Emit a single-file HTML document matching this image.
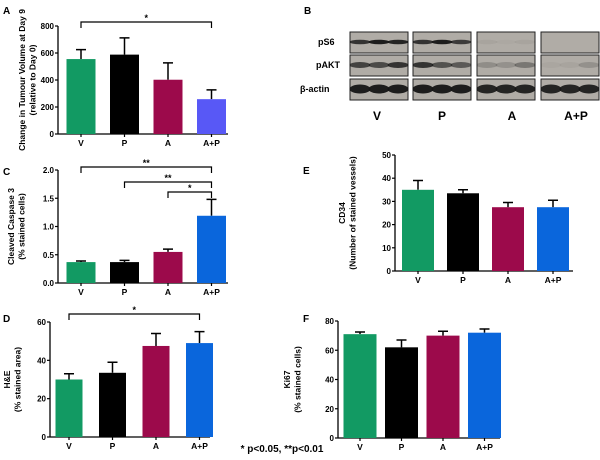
<!DOCTYPE html>
<html><head><meta charset="utf-8"><style>
body{margin:0;background:#fff;width:600px;height:455px;overflow:hidden;font-family:"Liberation Sans",sans-serif}
svg text{font-family:"Liberation Sans",sans-serif}
</style></head><body>
<svg id="fig" width="600" height="455" xmlns="http://www.w3.org/2000/svg"></svg>
<script>
const categories = ["V","P","A","A+P"];
const aValues = [555, 588, 402, 258];
const aErr = [625, 712, 527, 327];
const cValues = [0.37, 0.37, 0.55, 1.19];
const cErr = [0.39, 0.40, 0.60, 1.48];
const dValues = [30, 33.5, 47.5, 49];
const dErr = [33, 39, 54, 55];
const eValues = [35, 33.5, 27.5, 27.5];
const eErr = [39, 35, 29.5, 30.5];
const fValues = [71, 62, 70, 72];
const fErr = [72.5, 67, 73, 74.5];
const aTicks = [0,200,400,600,800];
const cTicks = [0,0.5,1.0,1.5,2.0];
const dTicks = [0,20,40,60];
const eTicks = [0,10,20,30,40,50];
const fTicks = [0,20,40,60,80];

const NS="http://www.w3.org/2000/svg";
const svg=document.getElementById('fig');
function mk(tag,attrs,parent){const e=document.createElementNS(NS,tag);for(const k in attrs)e.setAttribute(k,attrs[k]);(parent||svg).appendChild(e);return e;}
function txt(s,x,y,opts,parent){const t=mk('text',Object.assign({x:x,y:y,'font-size':9,'font-weight':'bold','text-anchor':'middle',fill:'#000'},opts||{}),parent);t.textContent=s;return t;}

function panel(cfg){
  const g=mk('g',{});
  
  
  const ys=v=>cfg.y0-(v-0)/(cfg.max)*(cfg.y0-cfg.y1);
  const xs=i=>cfg.x0+cfg.first+i*cfg.step;
  const ya=mk('line',{x1:cfg.x0,y1:cfg.y1,x2:cfg.x0,y2:cfg.y0,stroke:'#000','stroke-width':1.3},g);
  
  const xa=mk('line',{x1:cfg.x0,y1:cfg.y0,x2:cfg.x0+cfg.w,y2:cfg.y0,stroke:'#000','stroke-width':1.3},g);
  
  cfg.ticks.forEach(t=>{
    mk('line',{x1:cfg.x0-3,y1:ys(t),x2:cfg.x0,y2:ys(t),stroke:'#000','stroke-width':1.2},g);
    const l=txt(cfg.fmt?cfg.fmt(t):String(t),cfg.x0-4,ys(t)+3,{'text-anchor':'end','font-size':8},g);
    
  });
  cfg.values.forEach((v,i)=>{
    const cx=xs(i);
    const eb=mk('path',{d:`M${cx} ${ys(v)} V${ys(cfg.err[i])} M${cx-5} ${ys(cfg.err[i])} H${cx+5}`,stroke:'#000','stroke-width':1.5,fill:'none'},g);
    
    
    const b=mk('rect',{x:cx-cfg.bw/2,y:ys(v),width:cfg.bw,height:cfg.y0-ys(v),fill:cfg.colors[i]},g);
    
    
    mk('line',{x1:cx,y1:cfg.y0,x2:cx,y2:cfg.y0+3,stroke:'#000','stroke-width':1.2},g);
    const l=txt(categories[i],cx,cfg.y0+12,{'font-size':8.5},g);
    
  });
  const yl=mk('text',{transform:`translate(${cfg.ylx},${(cfg.y0+cfg.y1)/2}) rotate(-90)`,'font-size':8.5,'font-weight':'bold','text-anchor':'middle'},g);
  
  cfg.ylab.forEach((s,k)=>{const ts=mk('tspan',{x:0,dy:k?10.5:0},yl);ts.textContent=s;});
  const pl=txt(cfg.letter,cfg.lx,cfg.ly,{'font-size':10,'text-anchor':'start'},g);
  
  (cfg.brackets||[]).forEach(br=>{
    const x1=xs(br[0]),x2=xs(br[1]);
    const p=mk('path',{d:`M${x1} ${br[2]+6} V${br[2]} H${x2} V${br[2]+6}`,stroke:'#000','stroke-width':1.2,fill:'none'},g);
    
    const s=txt(br[3],(x1+x2)/2,br[2]-1,{'font-size':9},g);
    
  });
}
const G='#129a63',K='#000',M='#9c0a4b',B='#0a66dc';
panel({name:'panel-a-tumour-volume',letter:'A',lx:3,ly:14,x0:58,y0:134,y1:26,w:170,max:800,first:23,step:43.5,bw:29,values:aValues,err:aErr,ticks:aTicks,colors:[G,K,M,'#5858f6'],ylx:25,ylab:['Change in Tumour Volume at Day 9','(relative to Day 0)'],brackets:[[0,3,22,'*']]});
panel({name:'panel-c-caspase',letter:'C',lx:3,ly:175,x0:58,y0:283,y1:170,w:170,max:2.0,first:23,step:43.5,bw:29,values:cValues,err:cErr,ticks:cTicks,fmt:t=>t.toFixed(1),colors:[G,K,M,B],ylx:14,ylab:['Cleaved Caspase 3','(% stained cells)'],brackets:[[0,3,167,'**'],[1,3,182,'**'],[2,3,192,'*']]});
panel({name:'panel-d-he',letter:'D',lx:3,ly:322,x0:50,y0:437,y1:322,w:160,max:60,first:19,step:43.5,bw:27,values:dValues,err:dErr,ticks:dTicks,colors:[G,K,M,B],ylx:10,ylab:['H&E','(% stained area)'],brackets:[[0,3,314,'*']]});
panel({name:'panel-e-cd34',letter:'E',lx:303,ly:174,x0:395,y0:271,y1:155,w:178,max:50,first:23,step:45,bw:32,values:eValues,err:eErr,ticks:eTicks,colors:[G,K,M,B],ylx:345,ylab:['CD34','(Number of stained vessels)']});
panel({name:'panel-f-ki67',letter:'F',lx:303,ly:322,x0:338,y0:438,y1:321,w:162,max:80,first:22,step:41.5,bw:33,values:fValues,err:fErr,ticks:fTicks,colors:[G,K,M,B],ylx:290,ylab:['Ki67','(% stained cells)']});

const note=txt('* p<0.05, **p<0.01',282,452,{'font-size':10},svg);


const wb=mk('g',{});


const bl=txt('B',304,14,{'font-size':10,'text-anchor':'start'},wb);

const rows=[{n:'pS6',y:32,lx:318,ry:2.3},{n:'pAKT',y:55,lx:316,ry:3},{n:'β-actin',y:79,lx:300,ry:4.5}];
const cols=[350,413,477,541];
const intens=[[[0.8,0.95,0.9],[0.8,0.95,0.75],[0.05,0.02,0.05],[0,0,0]],[[0.7,0.65,0.8],[0.8,0.6,0.55],[0.2,0.18,0.35],[0.04,0.05,0.18]],[[0.95,0.95,0.95],[0.95,0.95,0.95],[0.9,0.9,0.9],[0.9,0.9,0.9]]];
rows.forEach((r,ri)=>{
  const l=txt(r.n,r.lx,r.y+13,{'font-size':9,'text-anchor':'start'},wb);
  
  cols.forEach((cx,ci)=>{
    const bx=mk('rect',{x:cx,y:r.y,width:58,height:21,fill:'#b0aca6',stroke:'#222','stroke-width':1},wb);
    
    for(let k=0;k<3;k++){
      const a=intens[ri][ci][k];
      if(a<=0)continue;
      mk('ellipse',{cx:cx+10+k*19,cy:r.y+10,rx:10.5,ry:r.ry,fill:'#151515','fill-opacity':a},wb);
    }
  });
});
['V','P','A','A+P'].forEach((s,i)=>{
  const l=txt(s,[377,442,512,576][i],120,{'font-size':12},wb);
  
});
</script>
</body></html>
